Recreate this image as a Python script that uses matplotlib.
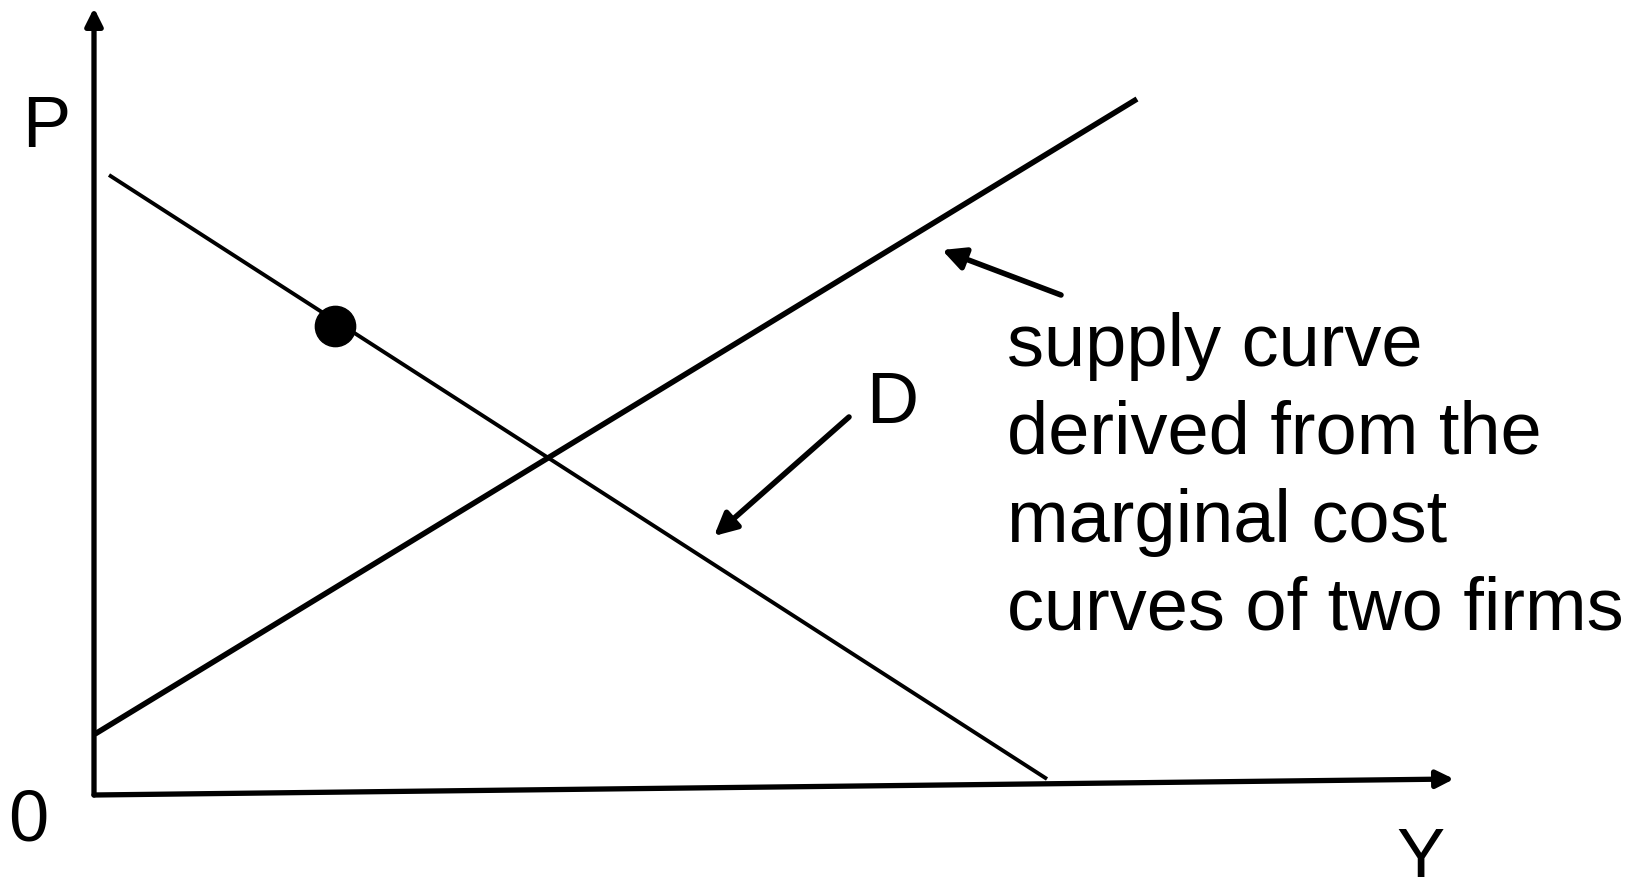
import matplotlib.pyplot as plt

plt.rcParams['font.family'] = ['Liberation Sans', 'DejaVu Sans']

# axes (origin at the corner, units ~ 10 px)
p_axis_x = [0.0, 0.0]
p_axis_y = [0.0, 78.7]
y_axis_x = [0.0, 136.0]
y_axis_y = [0.0, 1.6]

# demand and supply lines
demand_x = [1.5, 95.3]
demand_y = [62.0, 1.6]
supply_x = [0.1, 104.3]
supply_y = [6.1, 69.6]

# point on the demand curve
dot_x = [24.1]
dot_y = [46.9]

# pointer arrows (tail -> tip)
supply_arrow = [(96.7, 50.0), (84.8, 54.5)]
demand_arrow = [(75.5, 37.8), (62.0, 25.9)]

note = "supply curve\nderived from the\nmarginal cost\ncurves of two firms"

fig = plt.figure(figsize=(16.41, 8.78), dpi=100)
ax = fig.add_axes([0, 0, 1, 1])
ax.set_xlim(-9.4, 154.7)
ax.set_ylim(-8.2, 79.6)
ax.axis('off')

# axes with arrowheads
ax.annotate('', xy=(p_axis_x[1], p_axis_y[1]), xytext=(p_axis_x[0], p_axis_y[0]),
            arrowprops=dict(arrowstyle='-|>', lw=3.8, color='black',
                            mutation_scale=26, shrinkA=0, shrinkB=0))
ax.annotate('', xy=(y_axis_x[1], y_axis_y[1]), xytext=(y_axis_x[0], y_axis_y[0]),
            arrowprops=dict(arrowstyle='-|>', lw=3.8, color='black',
                            mutation_scale=26, shrinkA=0, shrinkB=0))

ax.plot(demand_x, demand_y, color='black', lw=2.8, solid_capstyle='butt')
ax.plot(supply_x, supply_y, color='black', lw=4.0, solid_capstyle='butt')
ax.plot(dot_x, dot_y, 'o', color='black', markersize=29)

for tail, tip in (supply_arrow, demand_arrow):
    ax.annotate('', xy=tip, xytext=tail,
                arrowprops=dict(arrowstyle='-|>', lw=4.0, color='black',
                                mutation_scale=34, shrinkA=0, shrinkB=0))

fs = 52
ax.text(-4.8, 66.7, 'P', fontsize=fs, ha='center', va='center')
ax.text(-6.6, -2.6, '0', fontsize=fs, ha='center', va='center')
ax.text(132.7, -3.1, 'Y', fontsize=fs, ha='center', va='top')
ax.text(79.8, 39.1, 'D', fontsize=fs, ha='center', va='center')
ax.text(91.3, 48.4, note, fontsize=53.3, ha='left', va='top', linespacing=1.35)

fig.savefig('out.png', dpi=100)
